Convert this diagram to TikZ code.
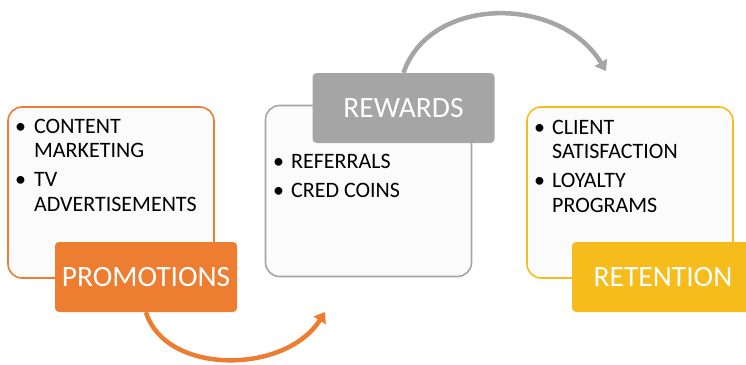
\documentclass[tikz,border=0pt]{standalone}
\usepackage{fontspec}
\setmainfont{Carlito}
\usetikzlibrary{arrows.meta}

\definecolor{promoorange}{HTML}{ED7D31}
\definecolor{rewardgray}{HTML}{A5A5A5}
\definecolor{retainyellow}{HTML}{F5BC1C}
\definecolor{panelfill}{HTML}{FBFBFB}

\tikzstyle{panel}=[rectangle,
                   rounded corners=14pt,
                   line width=1.6pt,
                   fill=panelfill,
                   inner sep=0pt,
                   minimum width=206pt,
                   minimum height=171pt]
\tikzstyle{tag}=[rectangle,
                 rounded corners=4pt,
                 inner sep=0pt,
                 minimum width=182pt,
                 minimum height=70pt,
                 text=white,
                 font=\fontsize{29.5}{31}\selectfont]
\tikzstyle{bullets}=[anchor=base west,
                     inner sep=0pt,
                     font=\fontsize{22}{24.5}\selectfont]
\tikzstyle{loop}=[line width=4.5pt,
                  -{Triangle[length=10pt,width=14pt]}]

\newcommand{\blt}{\textbullet}

\begin{document}
\begin{tikzpicture}[x=1pt,y=-1pt]
    \useasboundingbox (0,0) rectangle (746,364);

    % the three panels
    \node [panel, draw=promoorange] (promopanel) at (111,192.5) {};
    \node [panel, draw=rewardgray] (rewardpanel) at (368.5,191) {};
    \node [panel, draw=retainyellow] (retainpanel) at (630,192.5) {};

    % panel contents
    \node [bullets] (promolist) at (15,133)
        {\begin{tabular}[t]{@{}l@{\hspace{8pt}}l@{}}
            \blt & CONTENT\\ & MARKETING\\[4.5pt]
            \blt & TV\\ & ADVERTISEMENTS
         \end{tabular}};
    \node [bullets] (rewardlist) at (273,168)
        {\begin{tabular}[t]{@{}l@{\hspace{7pt}}l@{}}
            \blt & REFERRALS\\[4.5pt]
            \blt & CRED COINS
         \end{tabular}};
    \node [bullets] (retainlist) at (534,134)
        {\begin{tabular}[t]{@{}l@{\hspace{7pt}}l@{}}
            \blt & CLIENT\\ & SATISFACTION\\[4.5pt]
            \blt & LOYALTY\\ & PROGRAMS
         \end{tabular}};

    % title tags
    \node [tag, fill=promoorange] (promo) at (146,277) {PROMOTIONS};
    \node [tag, fill=rewardgray] (reward) at (403.5,108) {REWARDS};
    \node [tag, fill=retainyellow] (retain) at (663,277) {RETENTION};

    % curved arrows between the stages
    \coordinate (promoend) at (325,312);
    \coordinate (rewardend) at (606,71);
    \draw [loop, promoorange] (promo.south) .. controls (165,375) and (285,375) .. (promoend);
    \draw [loop, rewardgray] (reward.north) .. controls (430,-5) and (560,-5) .. (rewardend);
\end{tikzpicture}
\end{document}
